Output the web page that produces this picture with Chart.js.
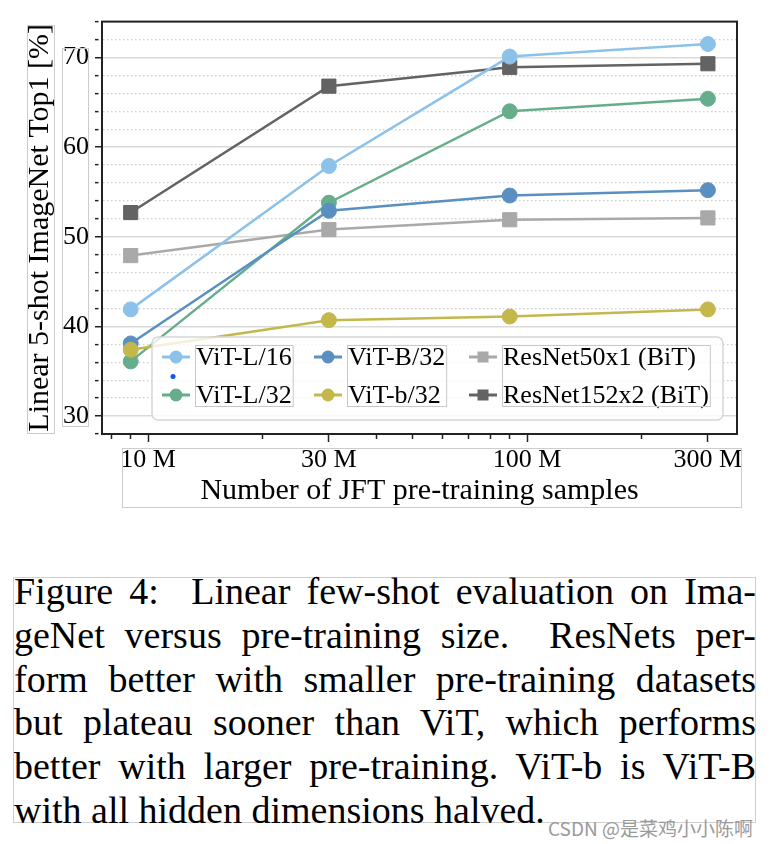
<!DOCTYPE html>
<html>
<head>
<meta charset="utf-8">
<script src="https://cdn.jsdelivr.net/npm/chart.js@4.4.1/dist/chart.umd.min.js"></script>
<style>
  body { margin: 0; background: #fff; width: 773px; height: 844px; position: relative; overflow: hidden; }
  #chart { position: absolute; left: 0; top: 0; }
  .caption-box { position: absolute; left: 13px; top: 577px; width: 743px; height: 246px; border: 1px solid #cfcfcf; box-sizing: border-box; }
  .caption { position: absolute; left: 14px; top: 570px; width: 742px; font-family: "Liberation Serif", "Times New Roman", serif; font-size: 38px; line-height: 43.8px; color: #000; }
  .caption div { text-align: justify; text-align-last: justify; }
  .caption div.last { text-align-last: left; }
  .mark { position: absolute; left: 548px; top: 814px; font-family: "Noto Sans CJK SC", "Noto Sans", sans-serif; font-size: 19px; color: #9a9a9a; white-space: nowrap; }
</style>
</head>
<body>
<canvas id="chart" width="773" height="520"></canvas>
<div class="caption-box"></div>
<div class="caption">
  <div>Figure 4:&nbsp; Linear few-shot evaluation on Ima-</div>
  <div>geNet versus pre-training size.&nbsp; ResNets per-</div>
  <div>form better with smaller pre-training datasets</div>
  <div>but plateau sooner than ViT, which performs</div>
  <div>better with larger pre-training. ViT-b is ViT-B</div>
  <div class="last">with all hidden dimensions halved.</div>
</div>
<div class="mark">CSDN @是菜鸡小小陈啊</div>
<script>
// pre-training set sizes (JFT subsets)
const samples = [9e6, 30e6, 90e6, 300e6];

const vitL16 = [41.9, 57.9, 70.1, 71.5];
const vitL32 = [36.1, 53.8, 64.0, 65.4];
const vitB32 = [38.1, 52.9, 54.6, 55.2];
const vitb32 = [37.4, 40.7, 41.1, 41.9];
const resnet50x1 = [47.9, 50.8, 51.9, 52.1];
const resnet152x2 = [52.7, 66.8, 68.9, 69.3];

const xTickValues = [8e6, 9e6, 1e7, 2e7, 3e7, 4e7, 5e7, 6e7, 7e7, 8e7, 9e7, 1e8, 2e8, 3e8];
const xLabeled = [1e7, 3e7, 1e8, 3e8];
const xLabelText = ["10 M", "30 M", "100 M", "300 M"];

const yMin = 28;
const yMax = 74;
const yStep = 2;

const serif = "'Liberation Serif', 'Times New Roman', serif";
Chart.defaults.font.family = serif;
Chart.defaults.color = "#000";

function series(label, data, color, style, order) {
  const square = style === "rect";
  return {
    label: label,
    data: data,
    borderColor: color,
    backgroundColor: color,
    borderWidth: 2.5,
    pointStyle: style,
    pointRadius: square ? 10 : 7.5,
    pointBorderWidth: 1,
    pointBorderColor: color,
    pointBackgroundColor: color,
    tension: 0,
    order: order,
  };
}

// legend in the matplotlib style: 3 columns x 2 rows, filled column by column
const legendPlugin = {
  id: "gridLegend",
  afterDatasetsDraw(chart) {
    const ctx = chart.ctx;
    const box = { x: 152, y: 337, w: 571, h: 83 };
    const colX = [10, 162, 317];
    const rowY = [20, 58];
    ctx.save();
    ctx.beginPath();
    ctx.roundRect(box.x, box.y, box.w, box.h, 6);
    ctx.fillStyle = "rgba(255,255,255,0.8)";
    ctx.fill();
    ctx.strokeStyle = "#d6d6d6";
    ctx.lineWidth = 1.5;
    ctx.stroke();

    ctx.font = "26px " + serif;
    ctx.textBaseline = "middle";
    const colWidths = [0, 0, 0];
    chart.data.datasets.forEach((ds, i) => {
      const col = Math.floor(i / 2);
      colWidths[col] = Math.max(colWidths[col], ctx.measureText(ds.label).width);
    });
    chart.data.datasets.forEach((ds, i) => {
      const col = Math.floor(i / 2);
      const row = i % 2;
      const x0 = box.x + colX[col];
      const y0 = box.y + rowY[row];
      ctx.strokeStyle = ds.borderColor;
      ctx.lineWidth = 3;
      ctx.beginPath();
      ctx.moveTo(x0, y0);
      ctx.lineTo(x0 + 28, y0);
      ctx.stroke();
      ctx.fillStyle = ds.borderColor;
      if (ds.pointStyle === "rect") {
        ctx.fillRect(x0 + 14 - 5.5, y0 - 5.5, 11, 11);
      } else {
        ctx.beginPath();
        ctx.arc(x0 + 14, y0, 6.5, 0, Math.PI * 2);
        ctx.fill();
      }
      ctx.fillStyle = "#000";
      ctx.fillText(ds.label, x0 + 34, y0 + 1);
    });
    // faint text boxes around each label column
    ctx.strokeStyle = "#c8c8c8";
    ctx.lineWidth = 1;
    colX.forEach((cx, c) => {
      ctx.strokeRect(box.x + cx + 33.5, box.y + 8.5, colWidths[c] + 2, 61);
    });
    // stray dot
    ctx.fillStyle = "#1652f0";
    ctx.beginPath();
    ctx.arc(173, 376.5, 2.5, 0, Math.PI * 2);
    ctx.fill();
    ctx.restore();
  },
};

// closes the axes box and adds the faint text frames around axis labels
const framePlugin = {
  id: "frame",
  afterDraw(chart) {
    const ctx = chart.ctx;
    const a = chart.chartArea;
    ctx.save();
    ctx.strokeStyle = "#222";
    ctx.lineWidth = 2;
    ctx.strokeRect(a.left, a.top, a.right - a.left, a.bottom - a.top);
    ctx.strokeStyle = "#cccccc";
    ctx.lineWidth = 1;
    ctx.strokeRect(27.5, 25.5, 27, 408);
    ctx.strokeRect(62.5, 48.5, 26, 378);
    ctx.strokeRect(122.5, 448.5, 619, 59);
    ctx.restore();
  },
};

new Chart(document.getElementById("chart"), {
  type: "line",
  data: {
    labels: samples,
    datasets: [
      series("ViT-L/16", vitL16, "#8cc2ea", "circle", 3),
      series("ViT-L/32", vitL32, "#66ae8b", "circle", 2),
      series("ViT-B/32", vitB32, "#5a8fc1", "circle", 1),
      series("ViT-b/32", vitb32, "#c4b74b", "circle", 0),
      series("ResNet50x1 (BiT)", resnet50x1, "#a9a9a9", "rect", 4),
      series("ResNet152x2 (BiT)", resnet152x2, "#636363", "rect", 5),
    ],
  },
  options: {
    responsive: false,
    animation: false,
    devicePixelRatio: 1,
    layout: { padding: { left: 22, top: 21, right: 36, bottom: 11 } },
    plugins: {
      legend: { display: false },
      tooltip: { enabled: false },
    },
    scales: {
      x: {
        type: "logarithmic",
        min: 7.56e6,
        max: 3.58e8,
        afterBuildTicks: (scale) => {
          scale.ticks = xTickValues.map((v) => ({ value: v }));
        },
        afterFit: (scale) => {
          scale.height = 75;
        },
        ticks: {
          autoSkip: false,
          maxRotation: 0,
          padding: 3,
          font: { size: 26 },
          color: "#000",
          callback: (value) => {
            const k = xLabeled.indexOf(value);
            return k >= 0 ? xLabelText[k] : "";
          },
        },
        grid: {
          drawOnChartArea: false,
          tickLength: 8,
          tickWidth: 1.5,
          tickColor: "#222",
          tickBorderDash: (ctx) =>
            ctx.tick && xLabeled.includes(ctx.tick.value) ? [] : [4, 30],
        },
        border: { color: "#222", width: 2 },
        title: {
          display: true,
          text: "Number of JFT pre-training samples",
          font: { size: 30 },
          color: "#000",
          padding: 0,
        },
      },
      y: {
        min: yMin,
        max: yMax,
        afterFit: (scale) => {
          scale.width = 80;
        },
        ticks: {
          stepSize: yStep,
          autoSkip: false,
          padding: 6,
          font: { size: 26 },
          color: "#000",
          callback: (value) => (value % 10 === 0 ? String(value) : ""),
        },
        grid: {
          color: (ctx) =>
            ctx.tick && ctx.tick.value % 10 === 0 ? "#d9d9d9" : "#cfcfcf",
          lineWidth: (ctx) => (ctx.tick && ctx.tick.value % 10 === 0 ? 1.5 : 1.3),
          tickLength: 7,
          tickWidth: 1.5,
          tickColor: "#222",
          tickBorderDash: (ctx) =>
            ctx.tick && ctx.tick.value % 10 === 0 ? [] : [3.5, 30],
        },
        border: {
          color: "#222",
          width: 2,
          dash: (ctx) =>
            ctx.tick && ctx.tick.value % 10 !== 0 ? [1.5, 2.5] : [],
        },
        title: {
          display: true,
          text: "Linear 5-shot ImageNet Top1 [%]",
          font: { size: 30 },
          color: "#000",
          padding: 0,
        },
      },
    },
  },
  plugins: [legendPlugin, framePlugin],
});
</script>
</body>
</html>
